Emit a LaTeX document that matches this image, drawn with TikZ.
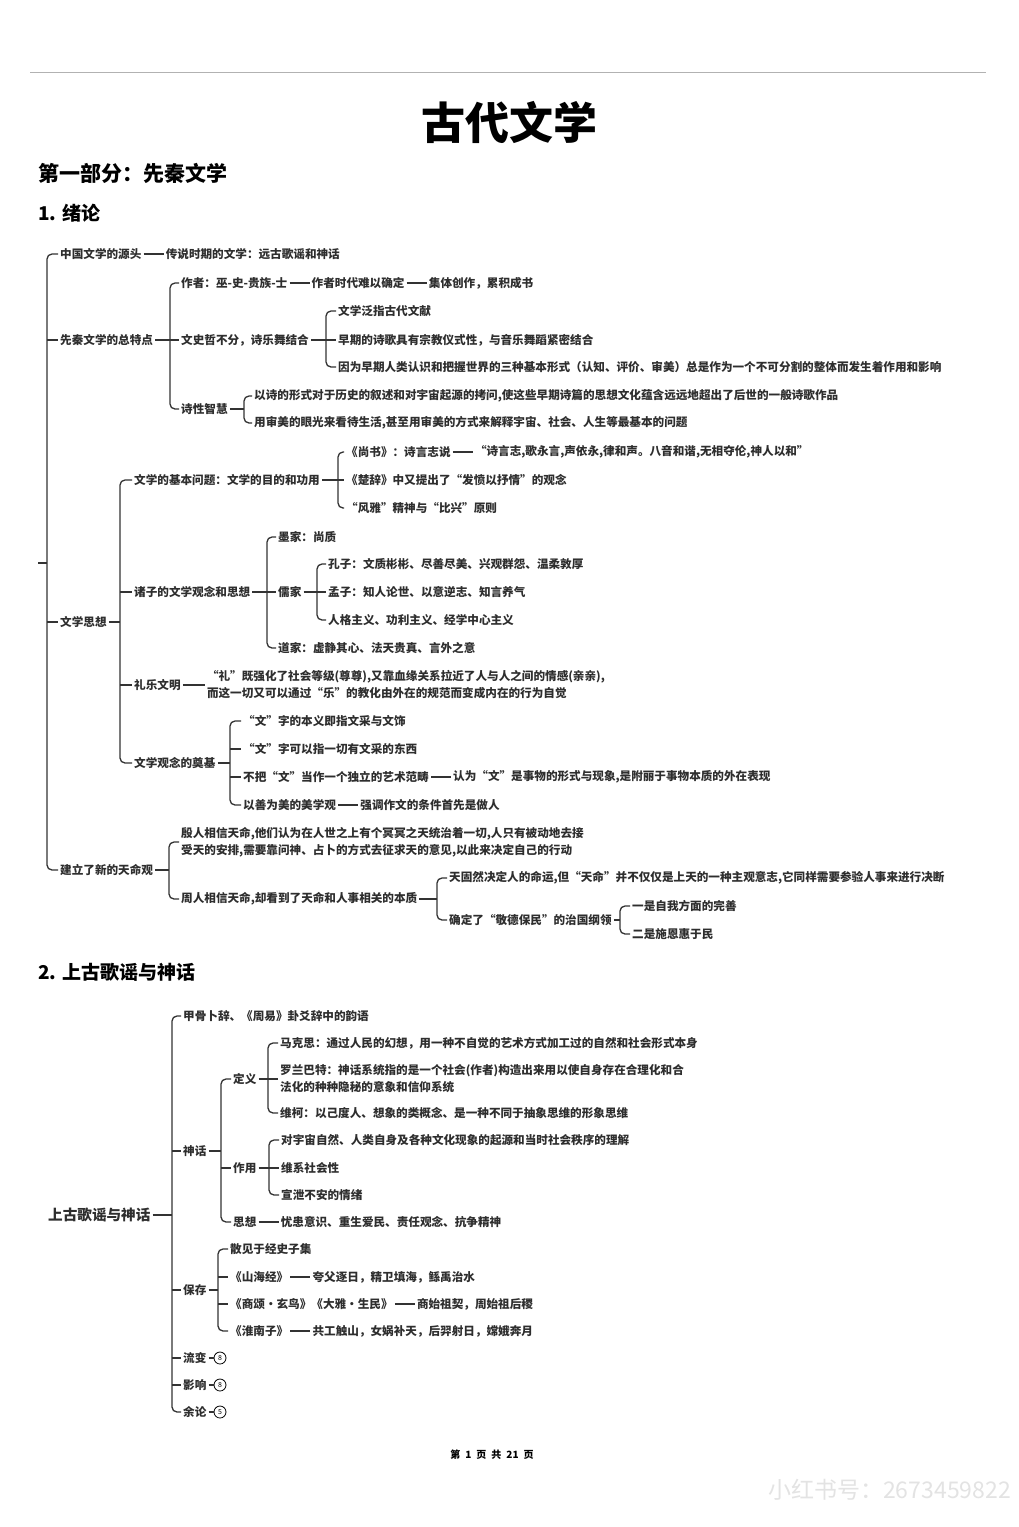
\documentclass[tikz,border=0pt]{standalone}
\usepackage{fontspec}
\setmainfont{Noto Sans CJK SC}
\usetikzlibrary{positioning}

\begin{document}
\begin{tikzpicture}[
    x=1pt, y=-1pt,
    font=\bfseries\fontsize{11.6}{17}\selectfont,
    txt/.style={anchor=west, inner sep=2pt, align=left, text=black!82},
    ln/.style={line width=1.3pt, draw=black!80},
    brk/.style={ln, rounded corners=5pt},
    num/.style={draw, circle, line width=0.8pt, inner sep=0pt, minimum size=12pt, font=\fontsize{7}{8}\selectfont},
    hd/.style={anchor=west, inner sep=0pt}]

    \fill[white] (0,0) rectangle (1018,1527);
    \useasboundingbox (0,0) rectangle (1018,1527);

    % title block
    \coordinate (ruleL) at (30,72);
    \coordinate (ruleR) at (986,72);
    \draw[gray!60, line width=0.8pt] (ruleL) -- (ruleR);
    \node[inner sep=0pt, font=\bfseries\fontsize{44}{50}\selectfont] (title) at (509,123) {古代文学};
    \node[hd, font=\bfseries\fontsize{21}{24}\selectfont] (part1) at (38,173) {第一部分：先秦文学};
    \node[hd, font=\bfseries\fontsize{19}{22}\selectfont] (sec1) at (38,213) {1. 绪论};
    \node[hd, font=\bfseries\fontsize{19}{22}\selectfont] (sec2) at (38,972) {2. 上古歌谣与神话};

    % section 1: first level
    \node[txt] (a1) at (58,254) {中国文学的源头};
    \node[txt, right=20pt of a1] (a1b) {传说时期的文学：远古歌谣和神话};
    \node[txt] (a2) at (58,340) {先秦文学的总特点};
    \node[txt] (a3) at (58,622) {文学思想};
    \node[txt] (a4) at (58,870) {建立了新的天命观};

    \node[txt] (b1) at (179,283) {作者：巫-史-贵族-士};
    \node[txt, right=20pt of b1] (b1b) {作者时代难以确定};
    \node[txt, right=20pt of b1b] (b1c) {集体创作，累积成书};
    \node[txt] (b2) at (179,340) {文史哲不分，诗乐舞结合};
    \node[txt] (b2a) at (336,311) {文学泛指古代文献};
    \node[txt] (b2b) at (336,340) {早期的诗歌具有宗教仪式性，与音乐舞蹈紧密结合};
    \node[txt] (b2c) at (336,367) {因为早期人类认识和把握世界的三种基本形式（认知、评价、审美）总是作为一个不可分割的整体而发生着作用和影响};
    \node[txt] (b3) at (179,409) {诗性智慧};
    \node[txt] (b3a) at (252,396) {以诗的形式对于历史的叙述和对宇宙起源的拷问,使这些早期诗篇的思想文化蕴含远远地超出了后世的一般诗歌作品};
    \node[txt] (b3b) at (252,423) {用审美的眼光来看待生活,甚至用审美的方式来解释宇宙、社会、人生等最基本的问题};

    \node[txt] (c1) at (132,480) {文学的基本问题：文学的目的和功用};
    \node[txt] (c1a) at (344,452) {《尚书》：诗言志说};
    \node[txt, right=20pt of c1a] (c1a2) {“诗言志,歌永言,声依永,律和声。八音和谐,无相夺伦,神人以和”};
    \node[txt] (c1b) at (344,480) {《楚辞》中又提出了“发愤以抒情”的观念};
    \node[txt] (c1c) at (344,508) {“风雅”精神与“比兴”原则};
    \node[txt] (c2) at (132,592) {诸子的文学观念和思想};
    \node[txt] (c2a) at (276,537) {墨家：尚质};
    \node[txt] (c2b) at (276,592) {儒家};
    \node[txt] (c2b1) at (326,564) {孔子：文质彬彬、尽善尽美、兴观群怨、温柔敦厚};
    \node[txt] (c2b2) at (326,592) {孟子：知人论世、以意逆志、知言养气};
    \node[txt] (c2b3) at (326,620) {人格主义、功利主义、经学中心主义};
    \node[txt] (c2c) at (276,648) {道家：虚静其心、法天贵真、言外之意};
    \node[txt] (c3) at (132,685) {礼乐文明};
    \node[txt, right=22pt of c3] (c3b) {“礼”既强化了社会等级(尊尊),又靠血缘关系拉近了人与人之间的情感(亲亲),\\而这一切又可以通过“乐”的教化由外在的规范而变成内在的行为自觉};
    \node[txt] (c4) at (132,763) {文学观念的奠基};
    \node[txt] (c4a) at (241,721) {“文”字的本义即指文采与文饰};
    \node[txt] (c4b) at (241,749) {“文”字可以指一切有文采的东西};
    \node[txt] (c4c) at (241,777) {不把“文”当作一个独立的艺术范畴};
    \node[txt, right=20pt of c4c] (c4c2) {认为“文”是事物的形式与现象,是附丽于事物本质的外在表现};
    \node[txt] (c4d) at (241,805) {以善为美的美学观};
    \node[txt, right=20pt of c4d] (c4d2) {强调作文的条件首先是做人};

    \node[txt] (d1) at (179,842) {殷人相信天命,他们认为在人世之上有个冥冥之天统治着一切,人只有被动地去接\\受天的安排,需要靠问神、占卜的方式去征求天的意见,以此来决定自己的行动};
    \node[txt] (d2) at (179,899) {周人相信天命,却看到了天命和人事相关的本质};
    \node[txt] (d2a) at (447,878) {天固然决定人的命运,但“天命”并不仅仅是上天的一种主观意志,它同样需要参验人事来进行决断};
    \node[txt] (d2b) at (447,920) {确定了“敬德保民”的治国纲领};
    \node[txt] (d2b1) at (630,906) {一是自我方面的完善};
    \node[txt] (d2b2) at (630,934) {二是施恩惠于民};

    % section 1: connectors
    \coordinate (stub) at (38,563);
    \coordinate (bR) at (47,563);
    \draw[ln] (stub) -- (bR);
    \draw[brk] (a1.west) -- (a1.west -| bR) -- (a4.west -| bR) -- (a4.west);
    \draw[ln] (a2.west -| bR) -- (a2.west);
    \draw[ln] (a3.west -| bR) -- (a3.west);
    \draw[ln] (a1.east) -- (a1b.west);

    \coordinate (bA2) at (170,0);
    \draw[ln] (a2.east) -- (a2.east -| bA2);
    \draw[brk] (b1.west) -- (b1.west -| bA2) -- (b3.west -| bA2) -- (b3.west);
    \draw[ln] (b2.west -| bA2) -- (b2.west);
    \draw[ln] (b1.east) -- (b1b.west);
    \draw[ln] (b1b.east) -- (b1c.west);

    \coordinate (bB2) at (326,0);
    \draw[ln] (b2.east) -- (b2b.west);
    \draw[brk] (b2a.west) -- (b2a.west -| bB2) -- (b2c.west -| bB2) -- (b2c.west);
    \coordinate (bB3) at (244,0);
    \draw[ln] (b3.east) -- (b3.east -| bB3);
    \draw[brk] (b3a.west) -- (b3a.west -| bB3) -- (b3b.west -| bB3) -- (b3b.west);

    \coordinate (bA3) at (120,0);
    \draw[ln] (a3.east) -- (a3.east -| bA3);
    \draw[brk] (c1.west) -- (c1.west -| bA3) -- (c4.west -| bA3) -- (c4.west);
    \draw[ln] (c2.west -| bA3) -- (c2.west);
    \draw[ln] (c3.west -| bA3) -- (c3.west);

    \coordinate (bC1) at (338,0);
    \draw[ln] (c1.east) -- (c1b.west);
    \draw[brk] (c1a.west) -- (c1a.west -| bC1) -- (c1c.west -| bC1) -- (c1c.west);
    \draw[ln] (c1a.east) -- (c1a2.west);

    \coordinate (bC2) at (267,0);
    \draw[ln] (c2.east) -- (c2b.west);
    \draw[brk] (c2a.west) -- (c2a.west -| bC2) -- (c2c.west -| bC2) -- (c2c.west);
    \coordinate (bC2b) at (317,0);
    \draw[ln] (c2b.east) -- (c2b2.west);
    \draw[brk] (c2b1.west) -- (c2b1.west -| bC2b) -- (c2b3.west -| bC2b) -- (c2b3.west);

    \draw[ln] (c3.east) -- (c3b.west);

    \coordinate (bC4) at (230,0);
    \draw[ln] (c4.east) -- (c4.east -| bC4);
    \draw[brk] (c4a.west) -- (c4a.west -| bC4) -- (c4d.west -| bC4) -- (c4d.west);
    \draw[ln] (c4b.west -| bC4) -- (c4b.west);
    \draw[ln] (c4c.west -| bC4) -- (c4c.west);
    \draw[ln] (c4c.east) -- (c4c2.west);
    \draw[ln] (c4d.east) -- (c4d2.west);

    \coordinate (bA4) at (169,0);
    \draw[ln] (a4.east) -- (a4.east -| bA4);
    \draw[brk] (d1.west) -- (d1.west -| bA4) -- (d2.west -| bA4) -- (d2.west);
    \coordinate (bD2) at (437,0);
    \draw[ln] (d2.east) -- (d2.east -| bD2);
    \draw[brk] (d2a.west) -- (d2a.west -| bD2) -- (d2b.west -| bD2) -- (d2b.west);
    \coordinate (bD2b) at (620,0);
    \draw[ln] (d2b.east) -- (d2b.east -| bD2b);
    \draw[brk] (d2b1.west) -- (d2b1.west -| bD2b) -- (d2b2.west -| bD2b) -- (d2b2.west);

    % section 2
    \node[txt, font=\bfseries\fontsize{14.6}{17}\selectfont] (g0) at (46,1215) {上古歌谣与神话};
    \node[txt] (e1) at (181,1016) {甲骨卜辞、《周易》卦爻辞中的韵语};
    \node[txt] (e2) at (181,1151) {神话};
    \node[txt] (f1) at (231,1079) {定义};
    \node[txt] (f1a) at (278,1043) {马克思：通过人民的幻想，用一种不自觉的艺术方式加工过的自然和社会形式本身};
    \node[txt] (f1b) at (278,1079) {罗兰巴特：神话系统指的是一个社会(作者)构造出来用以使自身存在合理化和合\\法化的种种隐秘的意象和信仰系统};
    \node[txt] (f1c) at (278,1113) {维柯：以己度人、想象的类概念、是一种不同于抽象思维的形象思维};
    \node[txt] (f2) at (231,1168) {作用};
    \node[txt] (f2a) at (279,1140) {对宇宙自然、人类自身及各种文化现象的起源和当时社会秩序的理解};
    \node[txt] (f2b) at (279,1168) {维系社会性};
    \node[txt] (f2c) at (279,1195) {宣泄不安的情绪};
    \node[txt] (f3) at (231,1222) {思想};
    \node[txt, right=20pt of f3] (f3b) {忧患意识、重生爱民、责任观念、抗争精神};
    \node[txt] (e3) at (181,1290) {保存};
    \node[txt] (e3a) at (228,1249) {散见于经史子集};
    \node[txt] (e3b) at (228,1277) {《山海经》};
    \node[txt, right=20pt of e3b] (e3b2) {夸父逐日，精卫填海，鲧禹治水};
    \node[txt] (e3c) at (228,1304) {《商颂·玄鸟》《大雅·生民》};
    \node[txt, right=20pt of e3c] (e3c2) {商始祖契，周始祖后稷};
    \node[txt] (e3d) at (228,1331) {《淮南子》};
    \node[txt, right=20pt of e3d] (e3d2) {共工触山，女娲补天，后羿射日，嫦娥奔月};
    \node[txt] (e4) at (181,1358) {流变};
    \node[num, right=5pt of e4] (e4n) {8};
    \node[txt] (e5) at (181,1385) {影响};
    \node[num, right=5pt of e5] (e5n) {8};
    \node[txt] (e6) at (181,1412) {余论};
    \node[num, right=5pt of e6] (e6n) {5};

    \coordinate (bG) at (172,0);
    \draw[ln] (g0.east) -- (g0.east -| bG);
    \draw[brk] (e1.west) -- (e1.west -| bG) -- (e6.west -| bG) -- (e6.west);
    \foreach \k in {e2,e3,e4,e5} \draw[ln] (\k.west -| bG) -- (\k.west);
    \draw[ln] (e4.east) -- (e4n.west);
    \draw[ln] (e5.east) -- (e5n.west);
    \draw[ln] (e6.east) -- (e6n.west);

    \coordinate (bE2) at (221,0);
    \draw[ln] (e2.east) -- (e2.east -| bE2);
    \draw[brk] (f1.west) -- (f1.west -| bE2) -- (f3.west -| bE2) -- (f3.west);
    \draw[ln] (f2.west -| bE2) -- (f2.west);
    \coordinate (bF1) at (268,0);
    \draw[ln] (f1.east) -- (f1b.west);
    \draw[brk] (f1a.west) -- (f1a.west -| bF1) -- (f1c.west -| bF1) -- (f1c.west);
    \coordinate (bF2) at (269,0);
    \draw[ln] (f2.east) -- (f2b.west);
    \draw[brk] (f2a.west) -- (f2a.west -| bF2) -- (f2c.west -| bF2) -- (f2c.west);
    \draw[ln] (f3.east) -- (f3b.west);

    \coordinate (bE3) at (218,0);
    \draw[ln] (e3.east) -- (e3.east -| bE3);
    \draw[brk] (e3a.west) -- (e3a.west -| bE3) -- (e3d.west -| bE3) -- (e3d.west);
    \draw[ln] (e3b.west -| bE3) -- (e3b.west);
    \draw[ln] (e3c.west -| bE3) -- (e3c.west);
    \draw[ln] (e3b.east) -- (e3b2.west);
    \draw[ln] (e3c.east) -- (e3c2.west);
    \draw[ln] (e3d.east) -- (e3d2.west);

    % footer
    \node[inner sep=0pt, font=\bfseries\fontsize{10}{12}\selectfont] (foot) at (492,1455) {第\hspace{5pt}1\hspace{5pt}页\hspace{5pt}共\hspace{5pt}21\hspace{5pt}页};
    \node[hd, text=gray!22, font=\mdseries\fontsize{23}{26}\selectfont] (wmark) at (768,1490) {小红书号：2673459822};
\end{tikzpicture}
\end{document}
